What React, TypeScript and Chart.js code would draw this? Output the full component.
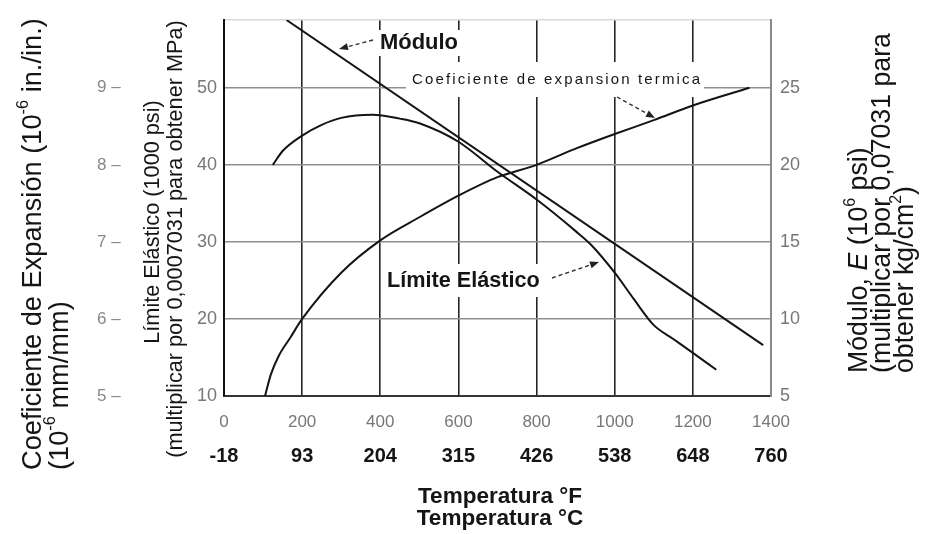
import React, { useEffect, useRef } from 'react';
import { Chart, registerables } from 'chart.js';

Chart.register(...registerables);

// ---- Tick labels ----
const tempFTicks = [0, 200, 400, 600, 800, 1000, 1200, 1400];
const tempCLabels = ['-18', '93', '204', '315', '426', '538', '648', '760'];
const limiteTicks = [10, 20, 30, 40, 50];
const moduloTicks = [5, 10, 15, 20, 25];
const coefTicks = [5, 6, 7, 8, 9];

// ---- Series ----
// Límite Elástico (1000 psi) vs temperature °F
const limiteTempF = [125, 150, 200, 250, 300, 380, 450, 500, 600, 700, 800, 900, 940, 1000, 1050, 1100, 1150, 1200, 1260];
const limiteKsi = [40.0, 41.8, 43.8, 45.2, 46.1, 46.5, 46.0, 45.4, 43.0, 39.1, 35.5, 31.4, 29.6, 26.0, 22.5, 19.2, 17.4, 15.6, 13.4];

// Coeficiente de expansión térmica (10^-6 in./in.)
const coefTempF = [105, 120, 140, 170, 200, 300, 400, 500, 600, 700, 800, 900, 1000, 1100, 1200, 1345];
const coefValues = [5.0, 5.28, 5.52, 5.76, 6.0, 6.6, 7.02, 7.32, 7.6, 7.84, 8.0, 8.21, 8.4, 8.58, 8.77, 9.0];

// Módulo E (10^6 psi)
const moduloTempF = [160, 1380];
const moduloValues = [29.4, 8.3];

const FONT = '"Liberation Sans", Arial, Helvetica, sans-serif';

type Seg = { t: string; sup?: boolean; italic?: boolean };

function setFont(ctx: CanvasRenderingContext2D, size: number, weight = 'normal', italic = false) {
  ctx.font = `${italic ? 'italic ' : ''}${weight} ${size}px ${FONT}`;
}

function richWidth(ctx: CanvasRenderingContext2D, segs: Seg[], size: number, weight = 'normal') {
  let w = 0;
  for (const s of segs) {
    setFont(ctx, s.sup ? size * 0.6 : size, weight, !!s.italic);
    w += ctx.measureText(s.t).width;
  }
  return w;
}

function drawRich(ctx: CanvasRenderingContext2D, segs: Seg[], x: number, y: number, size: number, weight = 'normal') {
  let cx = x;
  for (const s of segs) {
    const fs = s.sup ? size * 0.6 : size;
    setFont(ctx, fs, weight, !!s.italic);
    ctx.fillText(s.t, cx, s.sup ? y - size * 0.36 : y);
    cx += ctx.measureText(s.t).width;
  }
}

function fitSize(ctx: CanvasRenderingContext2D, segs: Seg[], target: number, weight = 'normal') {
  return (100 * target) / richWidth(ctx, segs, 100, weight);
}

function drawVertical(
  ctx: CanvasRenderingContext2D,
  segs: Seg[],
  cx: number,
  cy: number,
  size: number,
  align: 'start' | 'center',
  weight = 'normal'
) {
  ctx.save();
  ctx.translate(cx, cy);
  ctx.rotate(-Math.PI / 2);
  ctx.textBaseline = 'middle';
  ctx.textAlign = 'left';
  const w = richWidth(ctx, segs, size, weight);
  drawRich(ctx, segs, align === 'center' ? -w / 2 : 0, 0, size, weight);
  ctx.restore();
}

function drawSpaced(ctx: CanvasRenderingContext2D, text: string, x: number, y: number, target: number) {
  const chars = Array.from(text);
  const natural = chars.reduce((a, ch) => a + ctx.measureText(ch).width, 0);
  const spacing = (target - natural) / (chars.length - 1);
  let cx = x;
  for (const ch of chars) {
    ctx.fillText(ch, cx, y);
    cx += ctx.measureText(ch).width + spacing;
  }
}

function arrow(ctx: CanvasRenderingContext2D, x1: number, y1: number, x2: number, y2: number) {
  ctx.save();
  ctx.strokeStyle = '#333';
  ctx.lineWidth = 1.4;
  ctx.setLineDash([4, 3]);
  const ang = Math.atan2(y2 - y1, x2 - x1);
  const hl = 9;
  const bx = x2 - hl * Math.cos(ang);
  const by = y2 - hl * Math.sin(ang);
  ctx.beginPath();
  ctx.moveTo(x1, y1);
  ctx.lineTo(bx, by);
  ctx.stroke();
  ctx.setLineDash([]);
  ctx.fillStyle = '#222';
  ctx.beginPath();
  ctx.moveTo(x2, y2);
  ctx.lineTo(bx + 3.5 * Math.sin(ang), by - 3.5 * Math.cos(ang));
  ctx.lineTo(bx - 3.5 * Math.sin(ang), by + 3.5 * Math.cos(ang));
  ctx.closePath();
  ctx.fill();
  ctx.restore();
}

const annotPlugin = {
  id: 'annot',
  beforeDatasetsDraw(chart: any) {
    const ctx: CanvasRenderingContext2D = chart.ctx;
    ctx.save();
    ctx.fillStyle = '#ffffff';
    ctx.fillRect(374, 30, 88, 26);
    ctx.fillRect(406, 62, 298, 35);
    ctx.fillRect(383, 264, 162, 33);
    ctx.restore();
  },
  afterDatasetsDraw(chart: any) {
    const ctx: CanvasRenderingContext2D = chart.ctx;
    ctx.save();
    ctx.fillStyle = '#151515';
    ctx.textBaseline = 'middle';
    ctx.textAlign = 'left';

    const mod: Seg[] = [{ t: 'Módulo' }];
    const modSize = fitSize(ctx, mod, 78, 'bold');
    drawRich(ctx, mod, 380, 43, modSize, 'bold');

    const lim: Seg[] = [{ t: 'Límite Elástico' }];
    const limSize = fitSize(ctx, lim, 153, 'bold');
    drawRich(ctx, lim, 387, 281, limSize, 'bold');

    setFont(ctx, 15, 'normal');
    drawSpaced(ctx, 'Coeficiente de expansion termica', 412, 80, 288);

    arrow(ctx, 373, 40, 339, 49);
    arrow(ctx, 617, 97, 655, 118);
    arrow(ctx, 552, 278, 599, 262);
    ctx.restore();
  },
  afterDraw(chart: any) {
    const ctx: CanvasRenderingContext2D = chart.ctx;
    ctx.save();
    ctx.fillStyle = '#151515';

    // Far-left title
    const l1: Seg[] = [{ t: 'Coeficiente de Expansión (10' }, { t: '-6', sup: true }, { t: ' in./in.)' }];
    const l2: Seg[] = [{ t: '(10' }, { t: '-6', sup: true }, { t: ' mm/mm)' }];
    const lSize = fitSize(ctx, l1, 452);
    drawVertical(ctx, l1, 33, 470, lSize, 'start');
    drawVertical(ctx, l2, 60, 470, lSize, 'start');

    // Límite title
    const m1: Seg[] = [{ t: 'Límite Elástico (1000 psi)' }];
    const m2: Seg[] = [{ t: '(multiplicar por 0,0007031 para obtener MPa)' }];
    const mSize = fitSize(ctx, m2, 438);
    drawVertical(ctx, m1, 153, 222, mSize, 'center');
    drawVertical(ctx, m2, 176, 239, mSize, 'center');

    // Right title
    const r1: Seg[] = [{ t: 'Módulo, ' }, { t: 'E', italic: true }, { t: ' (10' }, { t: '6', sup: true }, { t: ' psi)' }];
    const r2: Seg[] = [{ t: '(multiplicar por 0,07031 para' }];
    const r3: Seg[] = [{ t: 'obtener kg/cm' }, { t: '2', sup: true }, { t: ')' }];
    const rSize = fitSize(ctx, r2, 340);
    drawVertical(ctx, r1, 860, 373, rSize, 'start');
    drawVertical(ctx, r2, 883, 373, rSize, 'start');
    drawVertical(ctx, r3, 906, 373, rSize, 'start');

    // Bottom titles
    const b1: Seg[] = [{ t: 'Temperatura °F' }];
    const b2: Seg[] = [{ t: 'Temperatura °C' }];
    const bSize = fitSize(ctx, b1, 164, 'bold');
    ctx.textBaseline = 'middle';
    const w1 = richWidth(ctx, b1, bSize, 'bold');
    drawRich(ctx, b1, 500 - w1 / 2, 497, bSize, 'bold');
    const w2 = richWidth(ctx, b2, bSize, 'bold');
    drawRich(ctx, b2, 500 - w2 / 2, 519, bSize, 'bold');
    ctx.restore();
  },
};

const Y_MAX = 58.8;

export default function App() {
  const ref = useRef<HTMLCanvasElement>(null);

  useEffect(() => {
    const canvas = ref.current;
    if (!canvas) return;
    const grayTick = { family: FONT, size: 18 };
    const chart = new Chart(canvas, {
      type: 'line',
      data: {
        datasets: [
          {
            label: 'Módulo',
            data: moduloTempF.map((x, i) => ({ x, y: moduloValues[i] })),
            yAxisID: 'y2',
            xAxisID: 'x',
            borderColor: '#141414',
            borderWidth: 2,
            pointRadius: 0,
            tension: 0,
            fill: false,
          },
          {
            label: 'Coeficiente de expansion termica',
            data: coefTempF.map((x, i) => ({ x, y: coefValues[i] })),
            yAxisID: 'y3',
            xAxisID: 'x',
            borderColor: '#141414',
            borderWidth: 2,
            pointRadius: 0,
            cubicInterpolationMode: 'monotone',
            fill: false,
          },
          {
            label: 'Límite Elástico',
            data: limiteTempF.map((x, i) => ({ x, y: limiteKsi[i] })),
            yAxisID: 'y',
            xAxisID: 'x',
            borderColor: '#141414',
            borderWidth: 2,
            pointRadius: 0,
            cubicInterpolationMode: 'monotone',
            fill: false,
          },
        ],
      },
      options: {
        animation: false,
        responsive: false,
        devicePixelRatio: 1,
        layout: { padding: { left: 97, right: 110, top: 20, bottom: 58 } },
        plugins: { legend: { display: false }, tooltip: { enabled: false } },
        scales: {
          x: {
            type: 'linear',
            position: 'bottom',
            weight: 0,
            min: 0,
            max: 1400,
            afterBuildTicks: (s: any) => {
              s.ticks = tempFTicks.map((v) => ({ value: v }));
            },
            ticks: {
              padding: 16,
              color: '#777',
              font: { family: FONT, size: 17 },
              maxRotation: 0,
              autoSkip: false,
              callback: (v: any) => String(v),
            },
            grid: {
              drawTicks: false,
              color: (c: any) => (c.tick && c.tick.value === 1400 ? '#9a9a9a' : '#262626'),
              lineWidth: 1.6,
            },
            border: { display: true, color: '#333', width: 2 },
            afterFit: (s: any) => {
              s.height = 40;
            },
          },
          x2: {
            type: 'linear',
            position: 'bottom',
            weight: 1,
            min: 0,
            max: 1400,
            afterBuildTicks: (s: any) => {
              s.ticks = tempFTicks.map((v) => ({ value: v }));
            },
            ticks: {
              padding: 8,
              color: '#151515',
              font: { family: FONT, size: 20, weight: 'bold' },
              maxRotation: 0,
              autoSkip: false,
              callback: (v: any) => {
                const i = tempFTicks.indexOf(Number(v));
                return i >= 0 ? tempCLabels[i] : '';
              },
            },
            grid: { display: false, drawTicks: false },
            border: { display: false },
            afterFit: (s: any) => {
              s.height = 40;
            },
          },
          y: {
            type: 'linear',
            position: 'left',
            weight: 0,
            min: 10,
            max: Y_MAX,
            afterBuildTicks: (s: any) => {
              s.ticks = [...limiteTicks, Y_MAX].map((v) => ({ value: v }));
            },
            ticks: {
              padding: 7,
              color: '#777',
              font: grayTick,
              callback: (v: any) => (limiteTicks.includes(Number(v)) ? String(v) : ''),
            },
            grid: {
              drawTicks: false,
              color: (c: any) => (c.tick && c.tick.value > 50 ? '#dadada' : '#8f8f8f'),
              lineWidth: 1.4,
            },
            border: { display: true, color: '#111', width: 2 },
            afterFit: (s: any) => {
              s.width = 45;
            },
          },
          y3: {
            type: 'linear',
            position: 'left',
            weight: 1,
            min: 5,
            max: 5 + (Y_MAX - 10) / 10,
            afterBuildTicks: (s: any) => {
              s.ticks = coefTicks.map((v) => ({ value: v }));
            },
            ticks: {
              padding: 2,
              crossAlign: 'far',
              color: '#888',
              font: { family: FONT, size: 17 },
              callback: (v: any) => `${v} –`,
            },
            grid: { display: false, drawTicks: false },
            border: { display: false },
            afterFit: (s: any) => {
              s.width = 82;
            },
          },
          y2: {
            type: 'linear',
            position: 'right',
            min: 5,
            max: Y_MAX / 2,
            afterBuildTicks: (s: any) => {
              s.ticks = moduloTicks.map((v) => ({ value: v }));
            },
            ticks: {
              padding: 9,
              color: '#777',
              font: grayTick,
              callback: (v: any) => String(v),
            },
            grid: { display: false, drawTicks: false },
            border: { display: true, color: '#8a8a8a', width: 2 },
            afterFit: (s: any) => {
              s.width = 60;
            },
          },
        },
      },
      plugins: [annotPlugin],
    } as any);
    return () => chart.destroy();
  }, []);

  return (
    <div style={{ position: 'absolute', left: 0, top: 0, width: 941, height: 534, background: '#fff' }}>
      <canvas ref={ref} width={941} height={534} style={{ display: 'block', width: 941, height: 534 }} />
    </div>
  );
}
